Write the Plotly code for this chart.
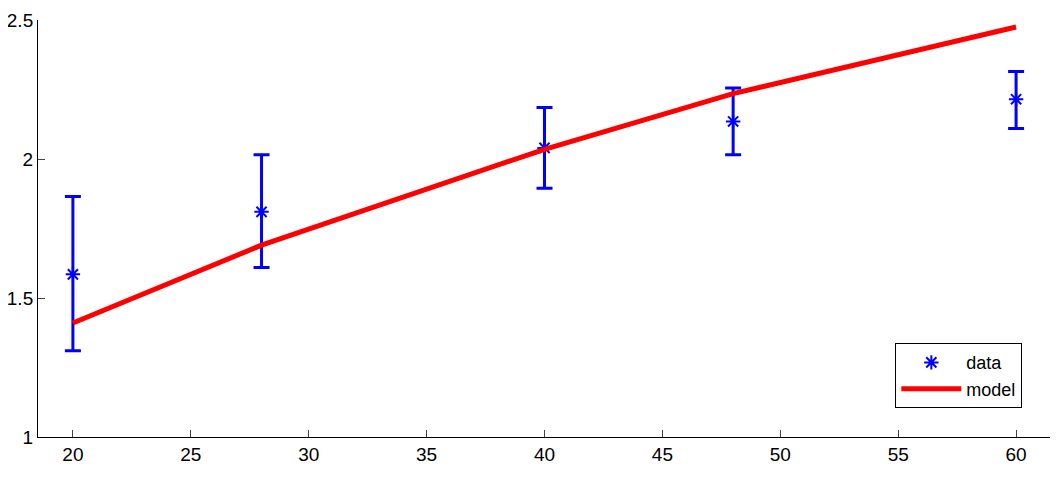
import plotly.graph_objects as go

x_data = [20, 28, 40, 48, 60]
y_data = [1.585, 1.81, 2.04, 2.135, 2.215]
err_plus = [0.28, 0.205, 0.145, 0.12, 0.10]
err_minus = [0.275, 0.20, 0.145, 0.12, 0.105]
x_model = [20, 28, 40, 48, 60]
y_model = [1.41, 1.69, 2.035, 2.235, 2.475]

fig = go.Figure()
fig.add_trace(go.Scatter(
    x=x_data, y=y_data, mode="markers", name="data",
    marker=dict(symbol="asterisk-open", size=12, color="#0000ff", line=dict(color="#0000ff", width=2)),
    error_y=dict(type="data", symmetric=False, array=err_plus, arrayminus=err_minus,
                 color="#0000ff", thickness=3, width=8),
))
fig.add_trace(go.Scatter(
    x=x_model, y=y_model, mode="lines", name="model",
    line=dict(color="#ff0000", width=5),
))

# page body adds ~8px offset, so margins are shifted to compensate
fig.update_layout(
    width=1058, height=479,
    margin=dict(l=30, r=11, t=12, b=50, autoexpand=False),
    paper_bgcolor="white", plot_bgcolor="white",
    font=dict(family="Liberation Sans, Arial", size=19, color="black"),
    showlegend=True,
    legend=dict(x=0.843, y=0.225, xanchor="left", yanchor="top",
                bordercolor="black", borderwidth=1, bgcolor="white",
                font=dict(size=18), itemwidth=60),
)
fig.update_xaxes(range=[18.52, 61.65], tickvals=[20, 25, 30, 35, 40, 45, 50, 55, 60],
                 showline=True, linecolor="black", linewidth=1, ticks="inside",
                 ticklen=7, showgrid=False, zeroline=False, automargin=False)
fig.update_yaxes(range=[1, 2.5], tickvals=[1, 1.5, 2, 2.5], ticktext=["1", "1.5", "2", "2.5"],
                 showline=True, linecolor="black", linewidth=1, ticks="inside",
                 ticklen=7, showgrid=False, zeroline=False, automargin=False)

fig.write_html("out.html")
